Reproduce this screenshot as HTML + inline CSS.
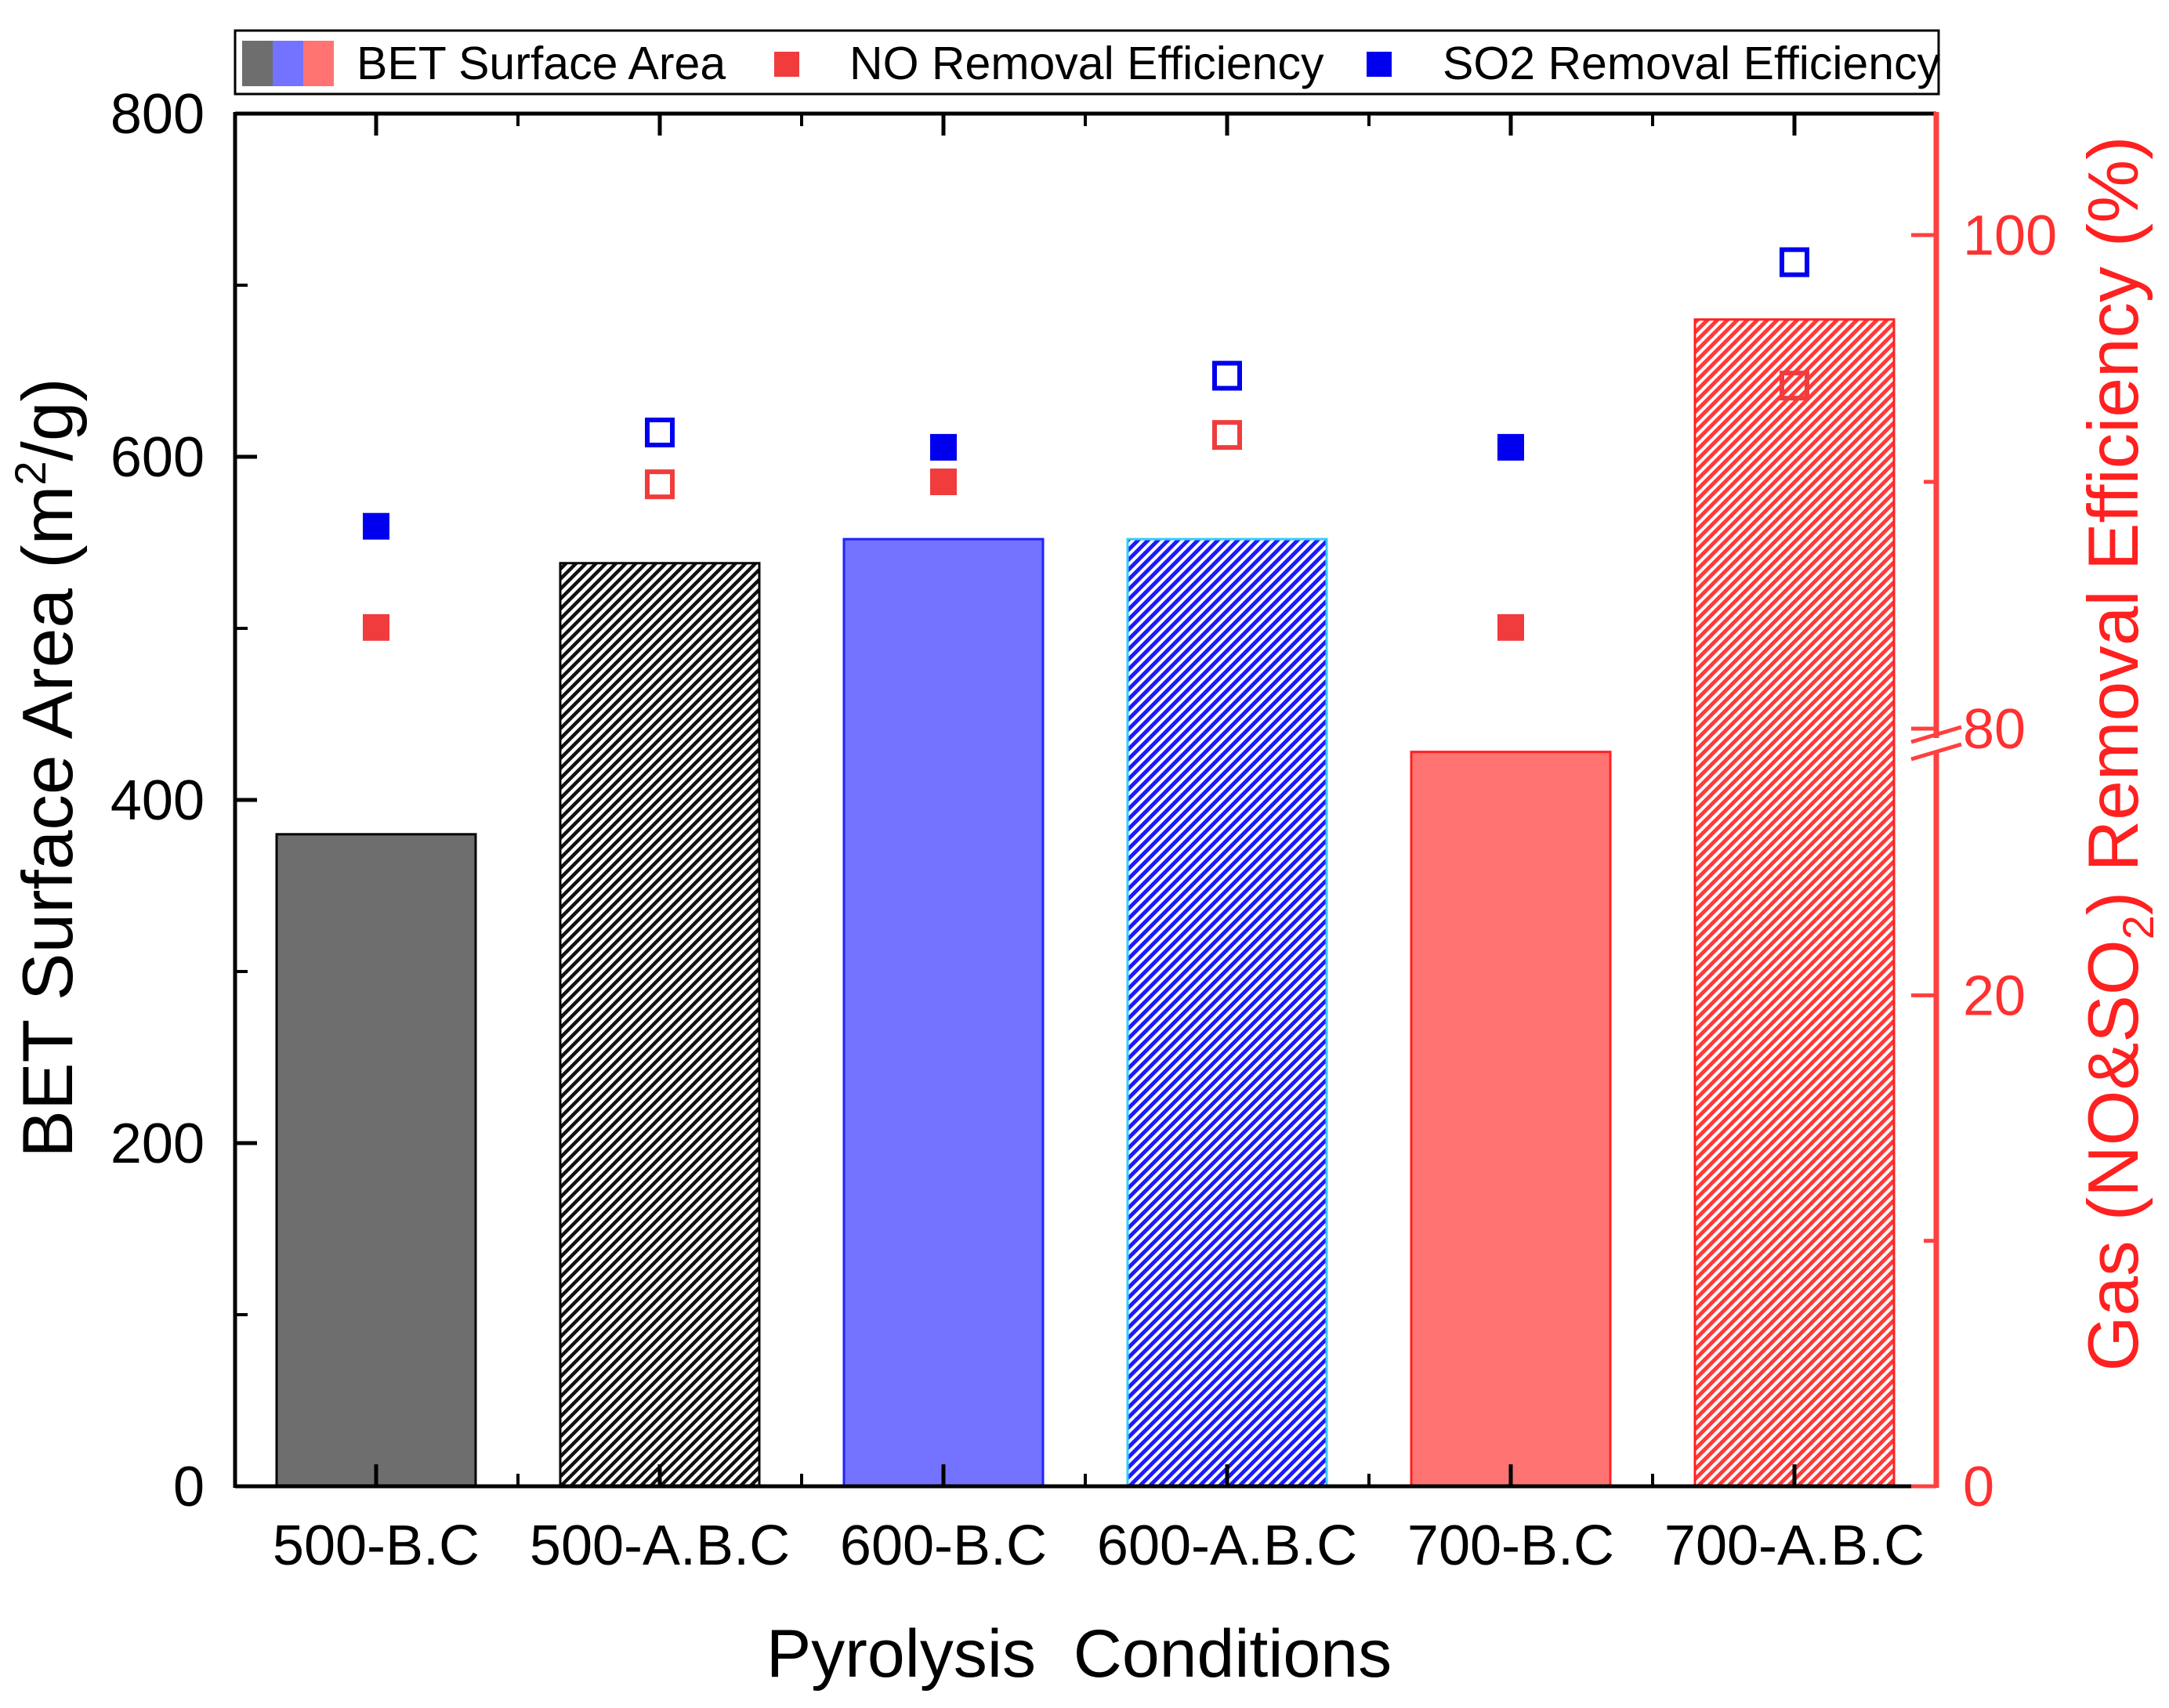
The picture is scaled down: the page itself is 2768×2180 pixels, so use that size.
<!DOCTYPE html>
<html><head><meta charset="utf-8"><style>
html,body{margin:0;padding:0;background:#fff;}
svg{display:block;font-family:"Liberation Sans",Arial,sans-serif;}
</style></head><body>
<svg id="chart" width="2768" height="2180" viewBox="0 0 2768 2180" xmlns="http://www.w3.org/2000/svg">
<defs>
<pattern id="hatchBlack" patternUnits="userSpaceOnUse" width="9" height="9" patternTransform="rotate(45)"><rect width="9" height="9" fill="#fff"/><rect width="4.5" height="9" fill="#111"/></pattern>
<pattern id="hatchBlue" patternUnits="userSpaceOnUse" width="9" height="9" patternTransform="rotate(45)"><rect width="9" height="9" fill="#fff"/><rect width="5" height="9" fill="#1a1aff"/></pattern>
<pattern id="hatchRed" patternUnits="userSpaceOnUse" width="9" height="9" patternTransform="rotate(45)"><rect width="9" height="9" fill="#fff"/><rect width="5" height="9" fill="#ff3a3a"/></pattern>
</defs>
<g id="bars"></g>
<g id="axes"></g>
<g id="points"></g>
<g id="legend">
<rect x="300" y="39" width="2174" height="81" fill="#fff" stroke="#000" stroke-width="3"/>
<rect x="309" y="52" width="39" height="58" fill="#6e6e6e"/>
<rect x="348" y="52" width="39" height="58" fill="#7373ff"/>
<rect x="387" y="52" width="39" height="58" fill="#ff7373"/>
<text x="455" y="101" font-size="59">BET Surface Area</text>
<rect x="988" y="66" width="32" height="32" fill="#f03c3c"/>
<text x="1084" y="101" font-size="59">NO Removal Efficiency</text>
<rect x="1744" y="66" width="32" height="32" fill="#0000ee"/>
<text x="1841" y="101" font-size="59">SO2 Removal Efficiency</text>
</g>
<text x="1377" y="2140" font-size="86" text-anchor="middle" xml:space="preserve">Pyrolysis  Conditions</text>
<text transform="translate(92,980) rotate(-90)" font-size="91" text-anchor="middle">BET Surface Area (m<tspan font-size="56" dy="-34">2</tspan><tspan dy="34">/g)</tspan></text>
<text transform="translate(2728,962) rotate(-90)" font-size="91" fill="#ff2020" text-anchor="middle">Gas (NO&amp;SO<tspan font-size="56" dy="20">2</tspan><tspan dy="-20">) Removal Efficiency (%)</tspan></text>
</svg>
<script>
const categories = ["500-B.C","500-A.B.C","600-B.C","600-A.B.C","700-B.C","700-A.B.C"];
const betValues = [380, 538, 552, 552, 428, 680];
const noValues = [84.1, 89.9, 90.0, 91.9, 84.1, 93.9];
const so2Values = [88.2, 92.0, 91.4, 94.3, 91.4, 98.9];
const leftTicks = [0, 200, 400, 600, 800];
const rightTicks = [0, 20, 80, 100];

const NS = "http://www.w3.org/2000/svg";
const L = 300, R = 2471, T = 145, B = 1897;
const fills = ["#6e6e6e","url(#hatchBlack)","#7373ff","url(#hatchBlue)","#ff7373","url(#hatchRed)"];
const strokes = ["#000","#000","#2222ff","#33ccff","#ff2020","#ff2020"];
const filledMarker = [true,false,true,false,true,false];
function xC(i){ return 480 + i*362; }
function yL(v){ return B - v*(B-T)/800; }
function yR(v){ return v <= 20 ? B - v*31.33 : 930 - (v-80)*31.5; }
function mk(tag, attrs, parent){ const e=document.createElementNS(NS,tag); for(const k in attrs) e.setAttribute(k,attrs[k]); parent.appendChild(e); return e; }

const gb = document.getElementById('bars');
betValues.forEach((v,i)=>{
  const r = mk('rect',{x:xC(i)-127,y:yL(v),width:254,height:B-yL(v),fill:fills[i],stroke:strokes[i],'stroke-width':3},gb);
  
  
});

const ga = document.getElementById('axes');
let e;
e = mk('line',{x1:L,y1:T,x2:R,y2:T,stroke:'#000','stroke-width':5},ga);
 
e = mk('line',{x1:L,y1:B,x2:R,y2:B,stroke:'#000','stroke-width':5},ga);
 
e = mk('line',{x1:L,y1:T-2,x2:L,y2:B+2,stroke:'#000','stroke-width':5},ga);
 
e = mk('line',{x1:R,y1:T-2,x2:R,y2:B+2,stroke:'#ff4040','stroke-width':7},ga);
 
categories.forEach((c,i)=>{
  mk('line',{x1:xC(i),y1:T,x2:xC(i),y2:T+28,stroke:'#000','stroke-width':5},ga);
  mk('line',{x1:xC(i),y1:B,x2:xC(i),y2:B-28,stroke:'#000','stroke-width':5},ga);
  if(i<categories.length-1){
    mk('line',{x1:xC(i)+181,y1:T,x2:xC(i)+181,y2:T+16,stroke:'#000','stroke-width':4},ga);
    mk('line',{x1:xC(i)+181,y1:B,x2:xC(i)+181,y2:B-16,stroke:'#000','stroke-width':4},ga);
  }
  const t = mk('text',{x:xC(i),y:1997,'font-size':72,'text-anchor':'middle'},ga);
  t.textContent = c;
  
  
});
leftTicks.forEach(v=>{
  mk('line',{x1:L,y1:yL(v),x2:L+28,y2:yL(v),stroke:'#000','stroke-width':5},ga);
  if(v<800) mk('line',{x1:L,y1:yL(v+100),x2:L+16,y2:yL(v+100),stroke:'#000','stroke-width':4},ga);
  const t = mk('text',{x:261,y:yL(v)+25,'font-size':72,'text-anchor':'end'},ga);
  t.textContent = v;
  
  
});
rightTicks.forEach(v=>{
  mk('line',{x1:R,y1:yR(v),x2:R-32,y2:yR(v),stroke:'#ff4040','stroke-width':5},ga);
  const t = mk('text',{x:2505,y:yR(v)+25,'font-size':72,fill:'#ff3030'},ga);
  t.textContent = v;
  
  
});
[10,90].forEach(v=>{ mk('line',{x1:R,y1:yR(v),x2:R-16,y2:yR(v),stroke:'#ff4040','stroke-width':5},ga); });
mk('rect',{x:R-6,y:yR(80)+12,width:12,height:16,fill:'#fff'},ga);
mk('line',{x1:R-32,y1:yR(80)+17,x2:R+32,y2:yR(80)-2,stroke:'#ff4040','stroke-width':5},ga);
e = mk('line',{x1:R-32,y1:yR(80)+39,x2:R+32,y2:yR(80)+20,stroke:'#ff4040','stroke-width':5},ga);
 

const gp = document.getElementById('points');
function marker(i, v, color, kind){
  const x = xC(i), y = yR(v);
  let m;
  if(filledMarker[i]) m = mk('rect',{x:x-17,y:y-17,width:34,height:34,fill:color},gp);
  else m = mk('rect',{x:x-16,y:y-16,width:32,height:32,fill:'none',stroke:color,'stroke-width':6},gp);
  
  
}
noValues.forEach((v,i)=>marker(i,v,'#f03c3c','no-removal'));
so2Values.forEach((v,i)=>marker(i,v,'#0000ee','so2-removal'));
</script>
</body></html>
